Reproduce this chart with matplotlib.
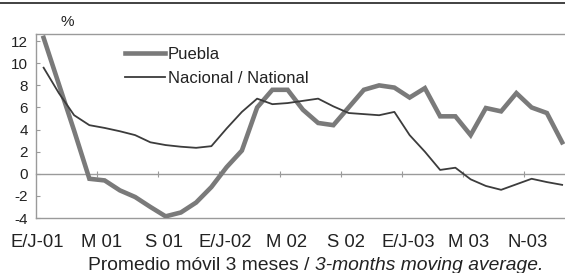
import matplotlib
matplotlib.use("Agg")
import matplotlib.pyplot as plt
from matplotlib.lines import Line2D

plt.rcParams['font.family'] = ['Liberation Sans', 'DejaVu Sans']

# Data: monthly, Jan 2001 .. Nov 2003 (3-month moving average, %)
months = list(range(35))
puebla = [12.3, 8.1, 3.9, -0.45, -0.6, -1.5, -2.1, -3.0, -3.85, -3.5, -2.6, -1.2,
          0.6, 2.1, 6.0, 7.6, 7.6, 5.8, 4.6, 4.4, 6.0, 7.6, 8.0, 7.8,
          6.9, 7.75, 5.2, 5.2, 3.5, 5.95, 5.65, 7.3, 6.0, 5.5, 2.85]
nacional = [9.6, 7.3, 5.3, 4.4, 4.15, 3.85, 3.5, 2.85, 2.6, 2.45, 2.35, 2.5,
            4.1, 5.6, 6.8, 6.3, 6.4, 6.6, 6.8, 6.1, 5.5, 5.4, 5.3, 5.6,
            3.5, 2.0, 0.35, 0.55, -0.5, -1.1, -1.45, -0.95, -0.45, -0.75, -1.0]
tick_pos = [0, 4, 8, 12, 16, 20, 24, 28, 32]
tick_labels = ["E/J-01", "M 01", "S 01", "E/J-02", "M 02", "S 02", "E/J-03", "M 03", "N-03"]
y_ticks = [-4, -2, 0, 2, 4, 6, 8, 10, 12]

W, H = 565, 273
fig = plt.figure(figsize=(W / 100, H / 100), dpi=100)
fig.patch.set_facecolor('white')

left_px, right_px, top_px, bot_px = 36, 36 + 36 * 15.25, 34, 218
ax = fig.add_axes([left_px / W, 1 - bot_px / H, (right_px - left_px) / W, (bot_px - top_px) / H])
ax.set_xlim(-0.5, 35.5)
ymin, ymax = -4, 12.65
ax.set_ylim(ymin, ymax)

ax.plot(months, puebla, color='#7a7a7a', lw=3.3, solid_joinstyle='miter', label='Puebla', zorder=3)
ax.plot(months, nacional, color='#3c3c3c', lw=1.3, label='Nacional / National', zorder=4)

gray = '#9a9a9a'
txt = '#222222'
for s in ['left', 'bottom', 'top']:
    ax.spines[s].set_color(gray)
    ax.spines[s].set_linewidth(1.0)
ax.spines['right'].set_visible(False)

ax.set_yticks(y_ticks)
ax.set_yticklabels([str(v) for v in y_ticks])
ax.tick_params(axis='y', direction='in', length=3, color=gray, labelsize=11, pad=6, labelcolor=txt)

offs = [-0.43, -0.17, -0.1, -0.1, -0.1, -0.17, -0.1, -0.1, -0.24]
ax.set_xticks([p + o for p, o in zip(tick_pos, offs)])
ax.set_xticklabels(tick_labels)
ax.tick_params(axis='x', length=0, labelsize=13.3, pad=11.5, labelcolor=txt)

# category axis crossing at zero
zero_frac = (0 - ymin) / (ymax - ymin)
sec = ax.secondary_xaxis(zero_frac)
sec.set_xticks([p - 0.5 for p in tick_pos[1:]])
sec.tick_params(axis='x', direction='inout', length=4, color=gray, labelbottom=False, labeltop=False)
sec.spines['bottom'].set_color(gray)
sec.spines['bottom'].set_linewidth(1.0)
for s in ['top', 'left', 'right']:
    sec.spines[s].set_visible(False)

fig.text(67 / W, 1 - 22 / H, "%", ha='center', va='center', fontsize=11, color=txt)

leg = ax.legend(loc='upper left', bbox_to_anchor=(125 / W, 1 - 47 / H), bbox_transform=fig.transFigure,
                frameon=False, fontsize=12, handlelength=2.4, handletextpad=0.18,
                labelspacing=0.55, borderpad=0, borderaxespad=0)
for t in leg.get_texts():
    t.set_color(txt)

t1 = fig.text(88 / W, 1 - 265 / H, "Promedio móvil 3 meses / ", ha='left', va='center',
              fontsize=13.9, color=txt)
ax.annotate("3-months moving average.", xy=(1, 0), xycoords=t1, ha='left', va='bottom',
            fontsize=13.9, style='italic', color=txt, annotation_clip=False)

fig.add_artist(Line2D([0, 1], [1 - 3 / H, 1 - 3 / H], transform=fig.transFigure, color='#333333', lw=1.3))

fig.savefig('out.png', dpi=100)
